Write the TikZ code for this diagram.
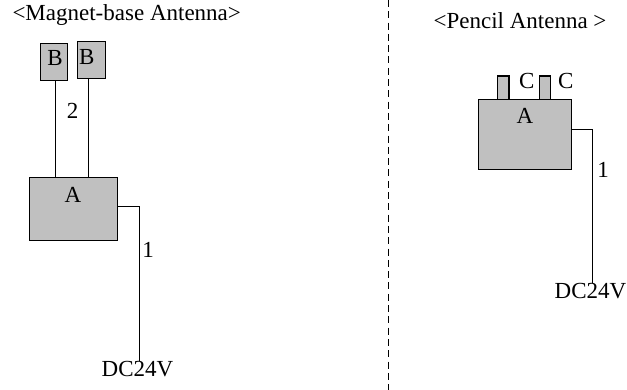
\documentclass[tikz,border=0pt]{standalone}
\usepackage{fontspec}
\setmainfont{Liberation Serif}
\definecolor{boxgray}{RGB}{192,192,192}
\begin{document}
\begin{tikzpicture}[x=1pt,y=-1pt,
  box/.style={draw=black, fill=boxgray, line width=1.1pt, inner sep=0pt, outer sep=0pt},
  lbl/.style={font=\fontsize{23}{25}\selectfont, inner sep=0pt, anchor=base},
  wire/.style={draw=black, line width=0.9pt},
  divider/.style={draw=black, line width=1pt, dash pattern=on 7pt off 4.3pt}]
\useasboundingbox (0,0) rectangle (627,390);
% divider
\coordinate (dtop) at (388,0);
\coordinate (dbot) at (388,390);
\draw[divider] (dtop) -- (dbot);
% ---------- Magnet-base antenna ----------
\node[lbl] (t1) at (126.7,20.7) {<Magnet-base Antenna>};
\node[box, minimum width=27.4pt, minimum height=36.7pt] (B1) at (54,62.3) {};
\node[box, minimum width=28pt, minimum height=37pt] (B2) at (91.7,60.2) {};
\node[box, minimum width=88.4pt, minimum height=63pt] (A1) at (73.5,209.2) {};
\coordinate (w1) at (55.7,80.7);
\coordinate (w2) at (88.7,78.7);
\draw[wire] (w1) -- (w1 |- A1.north);
\draw[wire] (w2) -- (w2 |- A1.north);
\node[lbl] (lB1) at (55,65.7) {B};
\node[lbl] (lB2) at (86.7,65) {B};
\node[lbl] (n2) at (72.5,118.3) {2};
\node[lbl] (lA1) at (73,202.3) {A};
\node[lbl] (DC1) at (137.5,376) {DC24V};
\node[lbl] (n1a) at (148,257.3) {1};
\coordinate (k1) at (139,206.7);
\draw[wire] (k1 -| A1.east) -- (k1) -- (k1 |- DC1.north);
% ---------- Pencil antenna ----------
\node[lbl] (t2) at (520,28.5) {<Pencil Antenna >};
\node[box, minimum width=93.2pt, minimum height=69.9pt] (A2) at (525.1,134.25) {};
\node[box, minimum width=11.3pt, minimum height=23.3pt, anchor=south] (C1) at (503.3,99.3) {};
\node[box, minimum width=11.2pt, minimum height=23.3pt, anchor=south] (C2) at (545.1,99.3) {};
\node[lbl] (lC1) at (526.7,88.3) {C};
\node[lbl] (lC2) at (565.7,88.3) {C};
\node[lbl] (lA2) at (525,124) {A};
\node[lbl] (DC2) at (590.5,298.3) {DC24V};
\node[lbl] (n1b) at (603,178) {1};
\coordinate (k2) at (592.5,129.5);
\draw[wire] (k2 -| A2.east) -- (k2) -- (k2 |- DC2.north);
\end{tikzpicture}
\end{document}
